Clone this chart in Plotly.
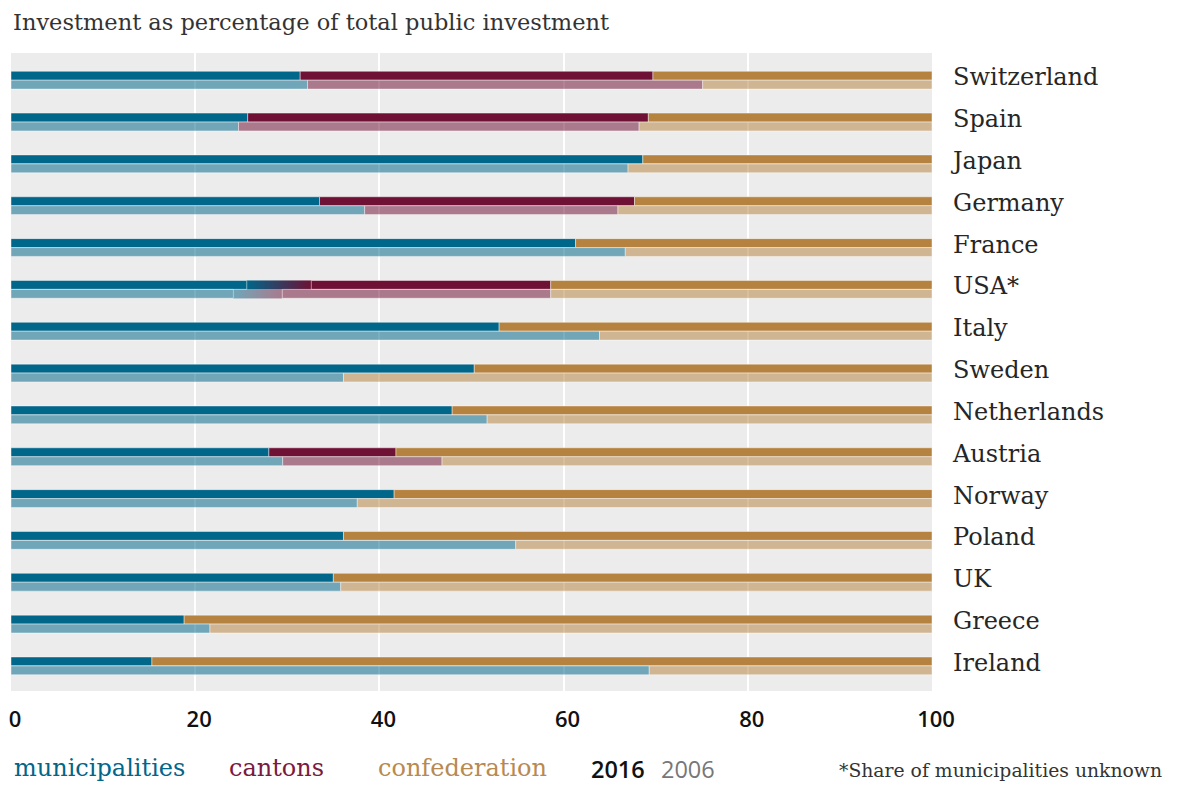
import plotly.graph_objects as go

# ---------------- data ----------------
countries = ["Switzerland", "Spain", "Japan", "Germany", "France", "USA*", "Italy",
             "Sweden", "Netherlands", "Austria", "Norway", "Poland", "UK", "Greece", "Ireland"]

# shares (percent of total public investment)
muni_2016 = [31.4, 25.7, 68.6, 33.5, 61.3, 29.1, 53.0, 50.3, 47.9, 28.0, 41.6, 36.1, 35.0, 18.8, 15.3]
cant_2016 = [38.3, 43.5, 0.0, 34.2, 0.0, 29.5, 0.0, 0.0, 0.0, 13.8, 0.0, 0.0, 0.0, 0.0, 0.0]
muni_2006 = [32.2, 24.7, 67.0, 38.4, 66.7, 26.8, 63.9, 36.1, 51.7, 29.5, 37.6, 54.8, 35.8, 21.6, 69.3]
cant_2006 = [42.9, 43.5, 0.0, 27.5, 0.0, 31.8, 0.0, 0.0, 0.0, 17.3, 0.0, 0.0, 0.0, 0.0, 0.0]

x_ticks = [0, 20, 40, 60, 80, 100]
unknown_split = "USA*"   # share of municipalities unknown -> drawn as a blend

# ---------------- style ----------------
RGB = {"muni": (0, 102, 138), "cant": (110, 17, 52), "conf": (181, 130, 63)}
BG = (236, 236, 236)
ALPHA = {"2016": 1.0, "2006": 0.52}
BLEND_HALF = {"2016": 3.5, "2006": 2.65}
BAR_W = 0.212
OFF = 0.107
OUTLINE = dict(color="rgba(255,255,255,0.55)", width=0.8)
SERIF = "DejaVu Serif"
SANS = "Open Sans"

# page has an 8px body margin: figure sized so it fills the 1188x792 window
PAGE_OFF = 8
W, H = 1188 - PAGE_OFF, 792 - PAGE_OFF
PANEL_L, PANEL_R, PANEL_T, PANEL_B = 11, 932, 53, 691   # window pixels


def rgba(c, a):
    return f"rgba({c[0]},{c[1]},{c[2]},{a})"


def mix(c1, c2, t):
    return tuple(round(c1[i] + (c2[i] - c1[i]) * t) for i in range(3))


fig = go.Figure()
rows = list(range(len(countries)))
years = {"2016": (muni_2016, cant_2016, -OFF), "2006": (muni_2006, cant_2006, OFF)}

for yr, (muni, cant, off) in years.items():
    a = ALPHA[yr]
    hw = BLEND_HALF[yr]
    ys = [r + off for r in rows]
    blend = [c == unknown_split for c in countries]
    # smooth blend for the unknown municipal share (heatmap layer sits under the bars)
    for y, m, b in zip(ys, muni, blend):
        if not b:
            continue
        e = 0.02
        c0 = rgba(mix(BG, RGB["muni"], a), 1)
        c1 = rgba(mix(BG, RGB["cant"], a), 1)
        fig.add_trace(go.Heatmap(
            x=[m - hw - e, m - hw, m + hw, m + hw + e],
            y=[y - BAR_W / 4, y + BAR_W / 4],
            z=[[0, 0, 1, 1], [0, 0, 1, 1]],
            zmin=0, zmax=1, zsmooth="best", showscale=False,
            colorscale=[[0, c0], [1, c1]], hoverinfo="skip"))
    # municipalities
    m_len = [m - (hw if b else 0) for m, b in zip(muni, blend)]
    fig.add_trace(go.Bar(orientation="h", y=ys, x=m_len, base=[0] * len(rows), width=BAR_W,
                         marker=dict(color=rgba(RGB["muni"], a), line=OUTLINE), hoverinfo="skip"))
    # cantons
    cy, cx, cb = [], [], []
    for y, m, c, b in zip(ys, muni, cant, blend):
        if c > 0:
            s = m + (hw if b else 0)
            cy.append(y); cb.append(s); cx.append(m + c - s)
    fig.add_trace(go.Bar(orientation="h", y=cy, x=cx, base=cb, width=BAR_W,
                         marker=dict(color=rgba(RGB["cant"], a), line=OUTLINE), hoverinfo="skip"))
    # confederation (remainder)
    fig.add_trace(go.Bar(orientation="h", y=ys, x=[100 - m - c for m, c in zip(muni, cant)],
                         base=[m + c for m, c in zip(muni, cant)], width=BAR_W,
                         marker=dict(color=rgba(RGB["conf"], a), line=OUTLINE), hoverinfo="skip"))

fig.update_layout(
    width=W, height=H,
    margin=dict(l=PANEL_L - PAGE_OFF, r=1188 - PANEL_R, t=PANEL_T - PAGE_OFF, b=792 - PANEL_B),
    plot_bgcolor="#ececec", paper_bgcolor="white",
    barmode="overlay", showlegend=False,
    xaxis=dict(range=[0, 100], tickvals=x_ticks, showgrid=True, gridcolor="white", gridwidth=1.5,
               zeroline=False, showline=False, ticks="", ticklabelstandoff=13, ticklabelshift=4,
               ticklabeloverflow="allow", automargin=False,
               tickfont=dict(family=SANS, size=22, color="#111", weight=600)),
    yaxis=dict(range=[14.6, -0.65], tickvals=[r - 0.08 for r in rows], ticktext=countries, side="right",
               showgrid=False, zeroline=False, showline=False, ticks="", ticklabelstandoff=20,
               automargin=False,
               tickfont=dict(family=SERIF, size=24, color="#262626")),
)


def px_x(px):
    return (px - PANEL_L) / (PANEL_R - PANEL_L)


def px_y(py):
    return (PANEL_B - py) / (PANEL_B - PANEL_T)


ann = [
    dict(text="Investment as percentage of total public investment", x=px_x(11), y=px_y(22),
         xanchor="left", font=dict(family=SERIF, size=22.5, color="#333")),
    dict(text="municipalities", x=px_x(12), y=px_y(768), xanchor="left",
         font=dict(family=SERIF, size=24, color=rgba(RGB["muni"], 1))),
    dict(text="cantons", x=px_x(227), y=px_y(768), xanchor="left",
         font=dict(family=SERIF, size=24, color="#7a1a3e")),
    dict(text="confederation", x=px_x(376), y=px_y(768), xanchor="left",
         font=dict(family=SERIF, size=24, color="#b88a50")),
    dict(text="2016", x=px_x(589), y=px_y(769), xanchor="left",
         font=dict(family=SANS, size=23.5, color="#111", weight=600)),
    dict(text="2006", x=px_x(659), y=px_y(769), xanchor="left",
         font=dict(family=SANS, size=23.5, color="#777")),
    dict(text="*Share of municipalities unknown", x=px_x(1164), y=px_y(770), xanchor="right",
         font=dict(family=SERIF, size=18.8, color="#333")),
]
for a in ann:
    a.update(xref="paper", yref="paper", yanchor="middle", showarrow=False)
fig.update_layout(annotations=ann)

fig.write_html("out.html")
